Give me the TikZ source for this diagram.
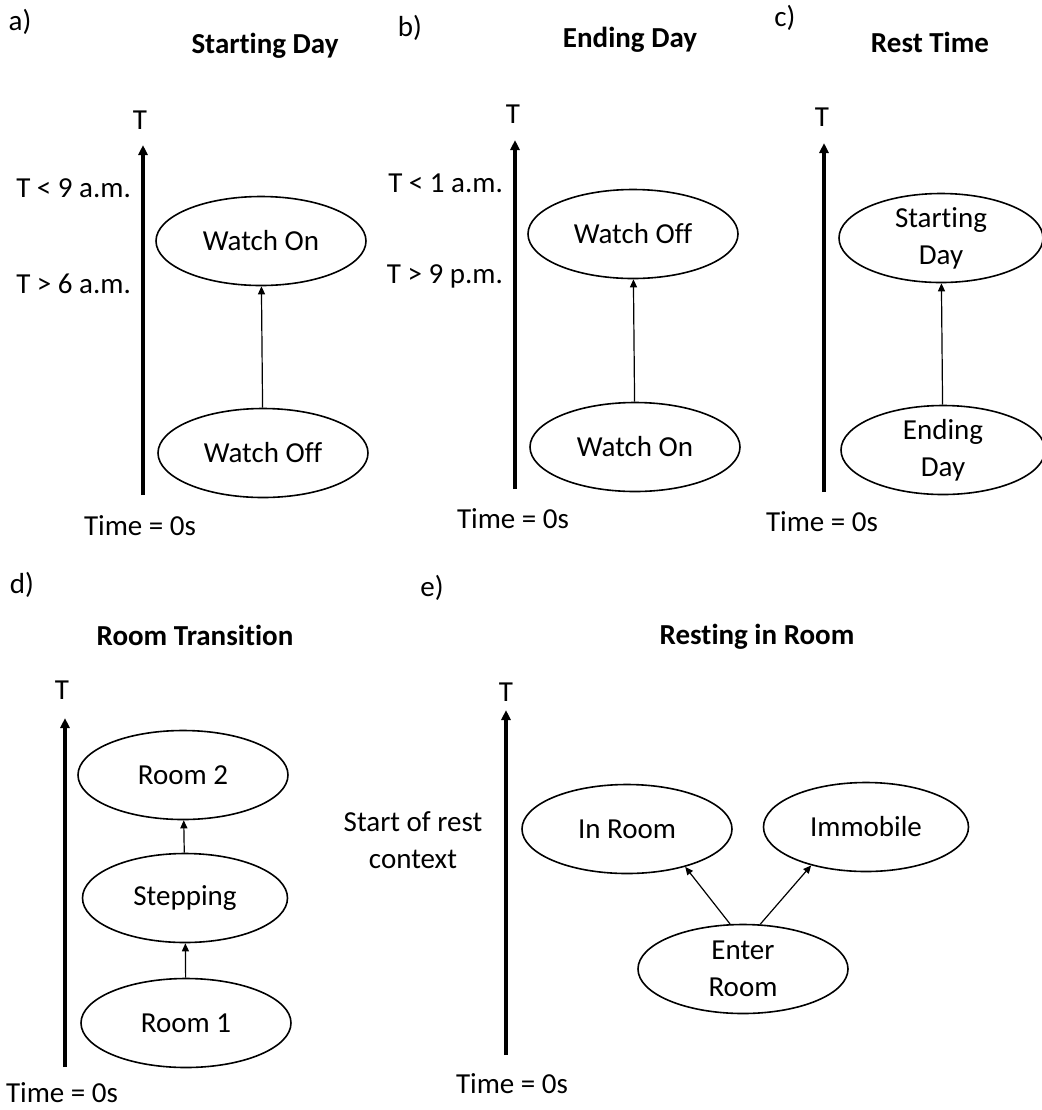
\documentclass[tikz,border=0pt]{standalone}
\usepackage{fontspec}
\setmainfont[Ligatures=NoCommon]{Carlito}
\usepackage{tikz}
\usetikzlibrary{arrows.meta,positioning,shapes.geometric}

\begin{document}
\begin{tikzpicture}[
    x=0.5pt, y=-0.5pt,
    font=\fontsize{14.5}{18.5}\selectfont,
    state/.style={ellipse, draw, line width=0.8pt, minimum width=105pt, minimum height=44.5pt, inner sep=0pt, align=center},
    axis/.style={-{Triangle[length=5pt,width=4.5pt]}, line width=1.6pt},
    conn/.style={-{Triangle[length=4pt,width=3.5pt]}, line width=0.6pt},
    ttl/.style={font=\fontsize{14.5}{18.5}\selectfont\bfseries}
]
\useasboundingbox (0,0) rectangle (1042,1110);

% a) Starting Day
\node at (20,22) (la) {a)};
\node[ttl] at (265,46) (ta) {Starting Day};
\coordinate (a0) at (143,495);
\coordinate (a1) at (143,145);
\draw[axis] (a0) -- (a1);
\node at (140,120) (Ta) {T};
\node[anchor=east] at (138,188) (a9) {T < 9 a.m.};
\node[anchor=east] at (138,284) (a6) {T > 6 a.m.};
\node[state] at (261,241) (aon) {Watch On};
\node[state] at (263,453) (aoff) {Watch Off};
\draw[conn] (aoff) -- (aon);
\node at (140,526) (za) {Time = 0s};

% b) Ending Day
\node at (410,28) (lb) {b)};
\node[ttl] at (630,40) (tb) {Ending Day};
\coordinate (b0) at (515,489);
\coordinate (b1) at (515,140);
\draw[axis] (b0) -- (b1);
\node at (513,114) (Tb) {T};
\node[anchor=east] at (510,183) (b1am) {T < 1 a.m.};
\node[anchor=east] at (510,276) (b9pm) {T > 9 p.m.};
\node[state] at (633,234) (boff) {Watch Off};
\node[state] at (635,447) (bon) {Watch On};
\draw[conn] (bon) -- (boff);
\node at (513,519) (zb) {Time = 0s};

% c) Rest Time
\node at (785,18) (lc) {c)};
\node[ttl] at (930,42) (tc) {Rest Time};
\coordinate (c0) at (824,492);
\coordinate (c1) at (824,143);
\draw[axis] (c0) -- (c1);
\node at (822,117) (Tc) {T};
\node[state, minimum width=102pt] at (941,238) (cstart) {Starting\\Day};
\node[state, minimum width=102pt] at (943,450) (cend) {Ending\\Day};
\draw[conn] (cend) -- (cstart);
\node at (822,522) (zc) {Time = 0s};

% d) Room Transition
\node at (22,585) (ld) {d)};
\node[ttl] at (195,635) (td) {Room Transition};
\coordinate (d0) at (65,1067);
\coordinate (d1) at (65,718);
\draw[axis] (d0) -- (d1);
\node at (62,690) (Td) {T};
\node[state] at (183,775) (room2) {Room 2};
\node[state, minimum width=102.5pt] at (185,898) (step) {Stepping};
\node[state] at (186,1023) (room1) {Room 1};
\draw[conn] (room1) -- (step);
\draw[conn] (step) -- (room2);
\node at (62,1093) (zd) {Time = 0s};

% e) Resting in Room
\node at (432,588) (le) {e)};
\node[ttl] at (757,637) (te) {Resting in Room};
\coordinate (e0) at (506,1055);
\coordinate (e1) at (506,710);
\draw[axis] (e0) -- (e1);
\node at (506,692) (Te) {T};
\node[align=center] at (413,840) (rest) {Start of rest\\context};
\node[state] at (627,829) (inroom) {In Room};
\node[state, minimum width=102.5pt] at (866,827) (immob) {Immobile};
\node[state] at (743,969) (enter) {Enter\\Room};
\draw[conn] (enter.106) -- (inroom.-33);
\draw[conn] (enter.69) -- (immob.-145);
\node at (512,1084) (ze) {Time = 0s};
\end{tikzpicture}
\end{document}
